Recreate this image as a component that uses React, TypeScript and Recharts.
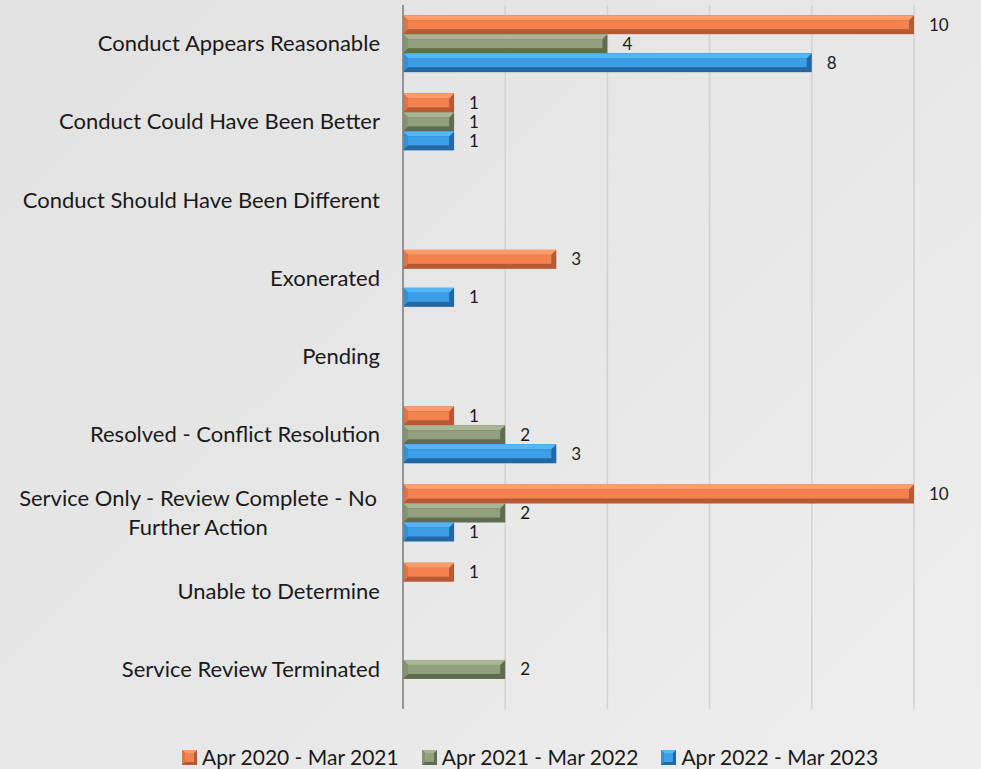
import { BarChart, Bar, XAxis, YAxis, CartesianGrid, LabelList } from 'recharts';

const categories = [
  'Conduct Appears Reasonable',
  'Conduct Could Have Been Better',
  'Conduct Should Have Been Different',
  'Exonerated',
  'Pending',
  'Resolved - Conflict Resolution',
  'Service Only - Review Complete - No Further Action',
  'Unable to Determine',
  'Service Review Terminated',
];

const fy2021 = [10, 1, null, 3, null, 1, 10, 1, null];
const fy2022 = [4, 1, null, null, null, 2, 2, null, 2];
const fy2023 = [8, 1, null, 1, null, 3, 1, null, null];

const xTicks = [0, 2, 4, 6, 8, 10];

const seriesNames = ['Apr 2020 - Mar 2021', 'Apr 2021 - Mar 2022', 'Apr 2022 - Mar 2023'];

const data = categories.map((name, i) => ({
  name,
  a: fy2021[i],
  b: fy2022[i],
  c: fy2023[i],
}));

const palettes = [
  { light: '#ff9c6a', main: '#f4824f', side: '#e07446', dark: '#b55a34' },
  { light: '#a9b594', main: '#93a07f', side: '#86936f', dark: '#5f6c4f' },
  { light: '#55b6f5', main: '#3c9ee6', side: '#3590d6', dark: '#2368a5' },
];

const FONT = 'Lato, "Open Sans", sans-serif';

function bevelShape(p: any) {
  const { x, y, width, height } = p;
  if (!width || width <= 0) return <g />;
  const c = palettes[p.paletteIndex];
  const b = Math.min(5, width / 4, height / 3);
  return (
    <g>
      <rect x={x} y={y} width={width} height={height} fill={c.dark} />
      <polygon
        points={`${x},${y} ${x + width},${y} ${x + width - b},${y + b} ${x + b},${y + b}`}
        fill={c.light}
      />
      <polygon
        points={`${x},${y} ${x + b},${y + b} ${x + b},${y + height - b} ${x},${y + height}`}
        fill={c.side}
      />
      <rect x={x + b} y={y + b} width={width - 2 * b} height={height - 2 * b} fill={c.main} />
    </g>
  );
}

function wrap(text: string, max: number) {
  const words = text.split(' ');
  const lines: string[] = [];
  let cur = '';
  words.forEach((w) => {
    const next = cur ? cur + ' ' + w : w;
    if (next.length > max && cur) {
      lines.push(cur);
      cur = w;
    } else {
      cur = next;
    }
  });
  if (cur) lines.push(cur);
  return lines;
}

function CategoryTick(props: any) {
  const { x, y, payload } = props;
  const lines = wrap(payload.value, 35);
  if (lines.length === 1) {
    return (
      <text x={x} y={y} dy={7} textAnchor="end" fontSize={22} fill="#1a1a1a" fontFamily={FONT}>
        {payload.value}
      </text>
    );
  }
  // wrapped labels are centred as a block, like the source
  const lh = 29;
  const cx = x - 182;
  return (
    <text x={cx} y={y} textAnchor="middle" fontSize={22} fill="#1a1a1a" fontFamily={FONT}>
      {lines.map((l, i) => (
        <tspan key={i} x={cx} dy={i === 0 ? 7 - ((lines.length - 1) * lh) / 2 : lh}>
          {l}
        </tspan>
      ))}
    </text>
  );
}

function ValueLabel(props: any) {
  const { x, y, width, height, value } = props;
  if (value === null || value === undefined || value === 0) return null;
  return (
    <text x={x + width + 15} y={y + height / 2 + 6} fontSize={17} fill="#1a1a1a" fontFamily={FONT}>
      {value}
    </text>
  );
}

function LegendIcon({ idx }: { idx: number }) {
  const c = palettes[idx];
  return (
    <svg width={15} height={15} style={{ marginRight: 5 }}>
      <rect x={0} y={0} width={15} height={15} fill={c.dark} />
      <polygon points="0,0 15,0 12,3 3,3" fill={c.light} />
      <polygon points="0,0 3,3 3,12 0,15" fill={c.side} />
      <rect x={3} y={3} width={9} height={9} fill={c.main} />
    </svg>
  );
}

export default function App() {
  const keys = ['a', 'b', 'c'];
  return (
    <div
      style={{
        position: 'absolute',
        left: 0,
        top: 0,
        width: 981,
        height: 769,
        background: 'linear-gradient(135deg, #e2e2e2 0%, #e7e7e7 50%, #eeeeee 100%)',
        overflow: 'hidden',
      }}
    >
      <BarChart
        width={981}
        height={769}
        data={data}
        layout="vertical"
        margin={{ top: 5, right: 67, bottom: 60, left: 0 }}
        barCategoryGap="13%"
        barGap={0}
      >
        <CartesianGrid horizontal={false} stroke="#d2d2d2" strokeWidth={1.5} />
        <XAxis type="number" domain={[0, 10]} ticks={xTicks} hide />
        <YAxis
          type="category"
          dataKey="name"
          width={403}
          tickLine={false}
          axisLine={{ stroke: '#7f7f7f', strokeWidth: 1.5 }}
          tick={<CategoryTick />}
          tickMargin={17}
          interval={0}
        />
        {keys.map((k, i) => (
          <Bar
            key={k}
            dataKey={k}
            name={seriesNames[i]}
            isAnimationActive={false}
            shape={(p: any) => bevelShape({ ...p, paletteIndex: i })}
          >
            <LabelList dataKey={k} content={<ValueLabel />} />
          </Bar>
        ))}
      </BarChart>
      <div
        style={{
          position: 'absolute',
          top: 744,
          left: 182,
          display: 'flex',
          alignItems: 'center',
          fontFamily: FONT,
          fontSize: 21,
          lineHeight: '26px',
          color: '#1a1a1a',
          gap: 23,
          whiteSpace: 'nowrap',
        }}
      >
        {seriesNames.map((n, i) => (
          <div key={n} style={{ display: 'flex', alignItems: 'center' }}>
            <LegendIcon idx={i} />
            <span>{n}</span>
          </div>
        ))}
      </div>
    </div>
  );
}
